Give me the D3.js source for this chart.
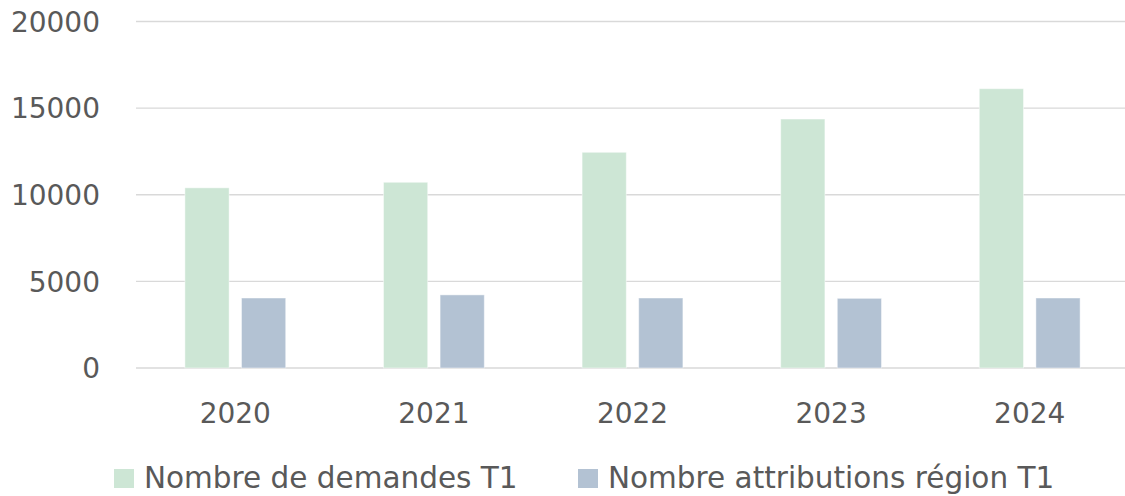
<!DOCTYPE html>
<html><head><meta charset="utf-8">
<script src="https://cdn.jsdelivr.net/npm/d3@7"></script>
<style>html,body{margin:0;padding:0;background:#fff;overflow:hidden}</style>
</head><body>
<svg id="c" width="1125" height="496"></svg>
<script>
const years = ["2020","2021","2022","2023","2024"];
const seriesNames = ["Nombre de demandes T1","Nombre attributions région T1"];
const demandes = [10400, 10720, 12450, 14370, 16120];
const attributions = [4040, 4220, 4040, 4020, 4040];
const yTicks = [0, 5000, 10000, 15000, 20000];
const colors = ["#CDE6D5", "#B3C2D3"];

const svg = d3.select("#c");
const font = "'DejaVu Sans', sans-serif";
const textColor = "#595959";
const plotL = 136, plotR = 1129, plotT = 21.5, plotB = 368;

const y = d3.scaleLinear().domain([0, 20000]).range([plotB, plotT]);
const x0 = d3.scaleBand().domain(years).range([plotL, plotR]).padding(0);
const x1 = d3.scaleBand().domain(seriesNames).range([0, x0.bandwidth()])
  .paddingInner(0.219).paddingOuter(0.864);

// gridlines
svg.append("g").selectAll("line").data(yTicks).join("line")
  .attr("x1", plotL).attr("x2", plotR)
  .attr("y1", d => y(d)).attr("y2", d => y(d))
  .attr("stroke", "#d9d9d9").attr("stroke-width", 1.4);

// y axis labels
const yAxis = d3.axisLeft(y).tickValues(yTicks).tickSize(0).tickPadding(0).tickFormat(d3.format("d"));
const ya = svg.append("g").attr("transform", "translate(100,0)").call(yAxis);
ya.select(".domain").remove();
ya.selectAll("text").attr("font-family", font).attr("font-size", 28).attr("fill", textColor).attr("dy", "0.35em");

// x axis labels
const xAxis = d3.axisBottom(x0).tickSize(0).tickPadding(0);
const xa = svg.append("g").attr("transform", `translate(0,${plotB})`).call(xAxis);
xa.select(".domain").remove();
xa.selectAll("text").attr("font-family", font).attr("font-size", 28).attr("fill", textColor)
  .attr("dy", null).attr("y", 55);

// bars
const rows = years.map((yr, i) => ({year: yr, vals: [demandes[i], attributions[i]]}));
const g = svg.append("g").selectAll("g").data(rows).join("g")
  .attr("transform", d => `translate(${x0(d.year)},0)`);
g.selectAll("rect").data(d => d.vals.map((v, j) => ({name: seriesNames[j], v, j}))).join("rect")
  .attr("x", d => x1(d.name)).attr("width", x1.bandwidth())
  .attr("y", d => y(d.v)).attr("height", d => y(0) - y(d.v))
  .attr("fill", d => colors[d.j])
  .attr("stroke", "#ffffff").attr("stroke-opacity", 0.45).attr("stroke-width", 1);

// legend
const legendX = [114, 578];
const lg = svg.append("g").selectAll("g").data(seriesNames).join("g")
  .attr("transform", (d, i) => `translate(${legendX[i]},0)`);
lg.append("rect").attr("x", 0).attr("y", 469).attr("width", 20).attr("height", 19)
  .attr("fill", (d, i) => colors[i]);
lg.append("text").attr("x", 30).attr("y", 488).text(d => d)
  .attr("font-family", font).attr("font-size", 29.5).attr("fill", textColor);
</script>
</body></html>
